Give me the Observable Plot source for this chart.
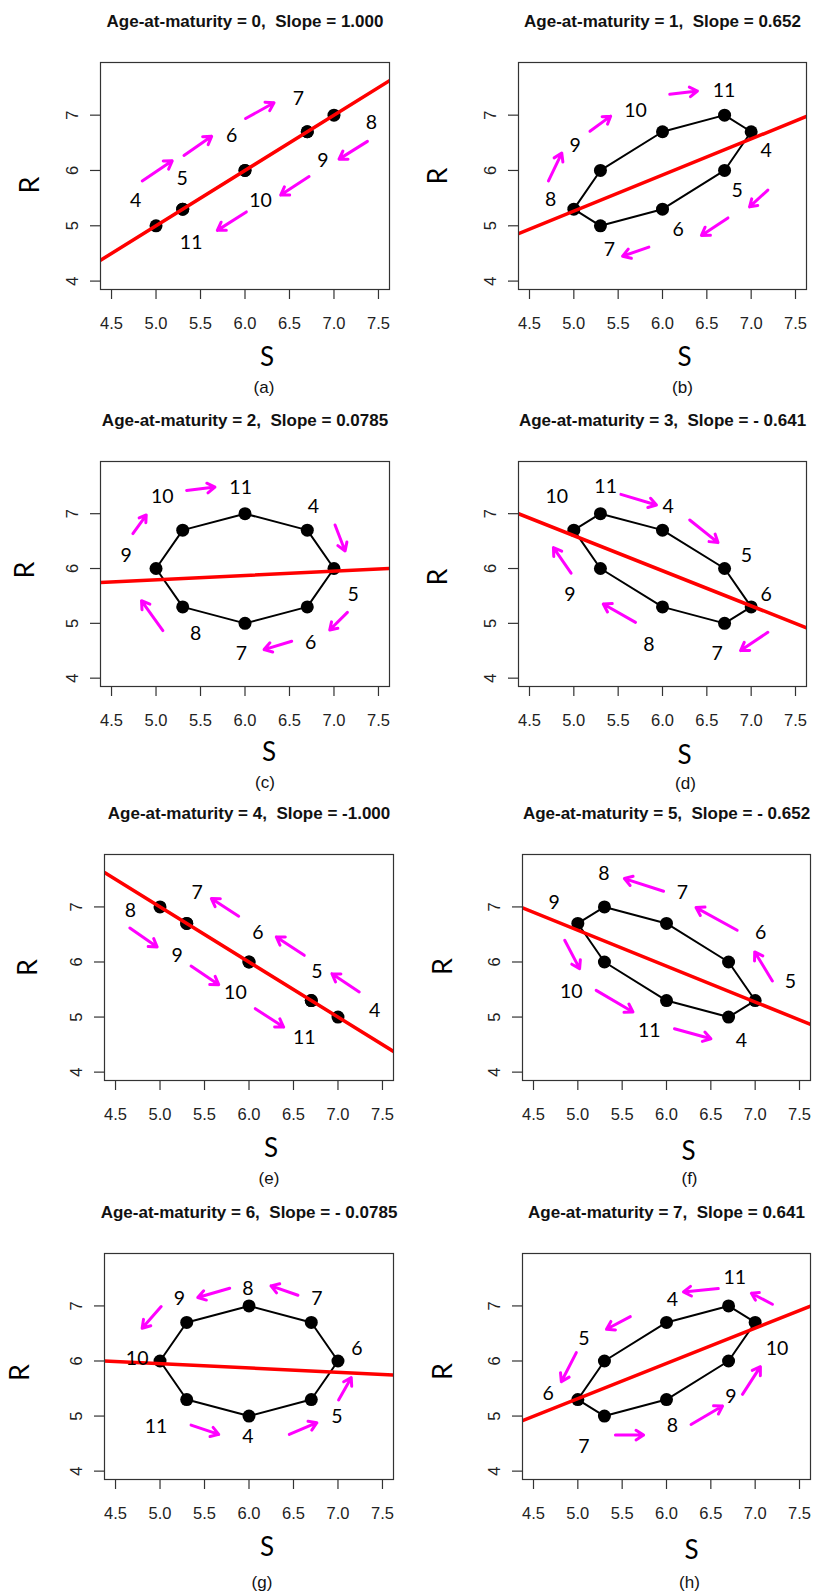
<!DOCTYPE html>
<html><head><meta charset="utf-8">
<script src="https://cdn.jsdelivr.net/npm/d3@7"></script>
<script src="https://cdn.jsdelivr.net/npm/@observablehq/plot@0.6"></script>
<style>
html,body{margin:0;padding:0;background:#fff;}
#chart{position:relative;width:813px;height:1595px;overflow:hidden;background:#fff;}
.panel{position:absolute;}
</style></head><body><div id="chart"></div>
<script>
// ---------- data ----------
const years = [4,5,6,7,8,9,10,11];
const panelLetters = ["a","b","c","d","e","f","g","h"];
const ageAtMaturity = [0,1,2,3,4,5,6,7];
const slopeText = ["1.000","0.652","0.0785","- 0.641","-1.000","- 0.652","- 0.0785","0.641"];
const slopes = [1.000,0.652,0.0785,-0.641,-1.000,-0.652,-0.0785,0.641];
const fitAtS6 = [6.0,5.918,5.873,5.959,6.0,5.926,5.873,5.956];
const xTicks = [4.5,5.0,5.5,6.0,6.5,7.0,7.5];
const yTicks = [4,5,6,7];
const xDomain = [4.376,7.624];
const yDomain = [3.848,7.952];

// S and R per panel, in year order 4..11
const S = [
 [5.0,5.3,6.0,6.7,7.0,6.7,6.0,5.3],
 [7.0,6.7,6.0,5.3,5.0,5.3,6.0,6.7],
 [6.7,7.0,6.7,6.0,5.3,5.0,5.3,6.0],
 [6.0,6.7,7.0,6.7,6.0,5.3,5.0,5.3],
 [7.0,6.7,6.0,5.3,5.0,5.3,6.0,6.7],
 [6.7,7.0,6.7,6.0,5.3,5.0,5.3,6.0],
 [6.0,6.7,7.0,6.7,6.0,5.3,5.0,5.3],
 [6.0,5.3,5.0,5.3,6.0,6.7,7.0,6.7]
];
const R = [
 [5.0,5.3,6.0,6.7,7.0,6.7,6.0,5.3],
 [6.7,6.0,5.3,5.0,5.3,6.0,6.7,7.0],
 [6.7,6.0,5.3,5.0,5.3,6.0,6.7,7.0],
 [6.7,6.0,5.3,5.0,5.3,6.0,6.7,7.0],
 [5.0,5.3,6.0,6.7,7.0,6.7,6.0,5.3],
 [5.0,5.3,6.0,6.7,7.0,6.7,6.0,5.3],
 [5.0,5.3,6.0,6.7,7.0,6.7,6.0,5.3],
 [6.7,6.0,5.3,5.0,5.3,6.0,6.7,7.0]
];
// year-label anchor points (data units), year order 4..11
const labelS = [
 [4.77,5.295,5.85,6.6,7.42,6.876,6.175,5.395],
 [7.17,6.843,6.176,5.4,4.74,5.014,5.696,6.693],
 [6.768,7.215,6.738,5.959,5.445,4.665,5.07,5.951],
 [6.064,6.945,7.17,6.615,5.846,4.957,4.807,5.359],
 [7.411,6.763,6.101,5.417,4.668,5.192,5.847,6.621],
 [6.846,7.396,7.063,6.18,5.293,4.732,4.926,5.806],
 [5.989,6.988,7.212,6.763,5.989,5.218,4.743,4.956],
 [6.068,5.069,4.665,5.069,6.068,6.726,7.246,6.771]
];
const labelR = [
 [5.46,5.846,6.62,7.30,6.86,6.18,5.46,4.70],
 [6.362,5.634,4.93,4.565,5.464,6.454,7.085,7.437],
 [7.121,5.515,4.655,4.442,4.806,6.23,7.303,7.473],
 [7.121,6.23,5.515,4.442,4.612,5.515,7.309,7.485],
 [5.121,5.818,6.533,7.255,6.927,6.121,5.436,4.624],
 [4.564,5.636,6.533,7.255,7.594,7.073,5.455,4.745],
 [4.624,4.988,6.23,7.133,7.315,7.133,6.048,4.806],
 [7.121,6.406,5.412,4.442,4.818,5.345,6.23,7.515]
];
// direction arrows [S from, R from, S to, R to]
const arrows = [
 [[4.845,5.81,5.182,6.174],[5.314,6.271,5.625,6.617],[6.007,6.939,6.326,7.225],[7.376,6.526,7.057,6.205],[6.72,5.889,6.401,5.555],[6.015,5.251,5.689,4.917]],
 [[4.714,5.81,4.864,6.314],[5.182,6.709,5.415,6.982],[6.082,7.376,6.394,7.437],[7.188,5.646,6.982,5.342],[6.738,5.142,6.439,4.826],[5.846,4.614,5.55,4.45]],
 [[4.74,6.636,4.89,6.976],[5.344,7.424,5.662,7.485],[7.012,6.794,7.125,6.321],[7.151,5.2,6.952,4.879],[6.525,4.673,6.214,4.521],[5.077,4.867,4.837,5.412]],
 [[5.531,7.352,5.932,7.158],[6.307,6.885,6.626,6.473],[7.188,4.836,6.881,4.503],[5.696,5.018,5.332,5.352],[4.969,5.915,4.77,6.382]],
 [[4.661,6.618,4.968,6.273],[5.349,5.927,5.66,5.588],[6.071,5.152,6.389,4.818],[7.239,5.455,6.932,5.788],[6.621,6.121,6.307,6.455],[5.884,6.83,5.577,7.152]],
 [[7.194,5.655,6.995,6.182],[6.797,6.576,6.333,6.988],[5.967,7.285,5.525,7.515],[4.852,6.394,5.02,5.879],[5.207,5.485,5.622,5.091],[6.09,4.788,6.501,4.606]],
 [[6.453,4.667,6.763,4.879],[7.007,5.291,7.149,5.697],[6.55,7.194,6.247,7.364],[5.783,7.321,5.424,7.152],[5.013,6.988,4.799,6.594],[5.349,4.836,5.66,4.667]],
 [[6.584,7.315,6.191,7.255],[5.592,6.806,5.323,6.576],[4.983,6.152,4.814,5.624],[5.424,4.655,5.742,4.655],[6.277,4.848,6.632,5.182],[6.857,5.394,7.059,5.897],[7.194,7.03,6.958,7.23]]
];

// ---------- layout (pixels) ----------
const layout = [
 {left:0,  top:0,    w:406, h:400, mL:100, mR:17, mT:62, mB:111, rDx:-70, rDy:9,  sDx:22, sDy:68, cDx:19, cDy:98},
 {left:406,top:0,    w:407, h:400, mL:112, mR:7,  mT:62, mB:111, rDx:-80, rDy:0,  sDx:22, sDy:68, cDx:20, cDy:98},
 {left:0,  top:400,  w:406, h:400, mL:100, mR:17, mT:61, mB:114, rDx:-75, rDy:-4, sDx:24, sDy:66, cDx:20, cDy:96},
 {left:406,top:400,  w:407, h:400, mL:112, mR:7,  mT:61, mB:114, rDx:-80, rDy:3,  sDx:22, sDy:69, cDx:23, cDy:97},
 {left:0,  top:800,  w:406, h:395, mL:104, mR:13, mT:54, mB:115, rDx:-76, rDy:0,  sDx:22, sDy:68, cDx:20, cDy:98},
 {left:406,top:800,  w:407, h:395, mL:116, mR:3,  mT:54, mB:115, rDx:-79, rDy:-1, sDx:22, sDy:71, cDx:23, cDy:98},
 {left:0,  top:1195, w:406, h:400, mL:104, mR:13, mT:58, mB:116, rDx:-84, rDy:6,  sDx:18, sDy:68, cDx:13, cDy:103},
 {left:406,top:1195, w:407, h:400, mL:116, mR:3,  mT:58, mB:116, rDx:-79, rDy:5,  sDx:25, sDy:71, cDx:23, cDy:103}
];

const sansA = "Liberation Sans, Arial, Helvetica, sans-serif";
const sansC = "Lato, 'Open Sans', sans-serif";
const chart = document.getElementById("chart");

panelLetters.forEach((letter, i) => {
  const L = layout[i];
  const pts = years.map((yr, j) => ({year: yr, s: S[i][j], r: R[i][j], ls: labelS[i][j], lr: labelR[i][j]}));
  const arr = arrows[i].map(([x1, y1, x2, y2]) => ({x1, y1, x2, y2}));
  const fit = xDomain.map(x => ({x, y: fitAtS6[i] + slopes[i] * (x - 6)}));
  const title = `Age-at-maturity = ${ageAtMaturity[i]},\u00a0 Slope = ${slopeText[i]}`;

  const svg = Plot.plot({
    width: L.w, height: L.h,
    marginLeft: L.mL, marginRight: L.mR, marginTop: L.mT, marginBottom: L.mB,
    x: {domain: xDomain},
    y: {domain: yDomain},
    style: {background: "transparent", overflow: "visible"},
    marks: [
      Plot.axisX({ticks: xTicks, tickSize: 10, tickFormat: () => "", label: null, stroke: "#333", strokeWidth: 1.2}),
      Plot.axisY({ticks: yTicks, tickSize: 10, tickFormat: () => "", label: null, stroke: "#333", strokeWidth: 1.2}),
      Plot.text(xTicks, {x: d => d, frameAnchor: "bottom", dy: 34, lineAnchor: "middle", textAnchor: "middle",
        text: d => d.toFixed(1), fontSize: 16.5, fontFamily: sansA, fill: "#222"}),
      Plot.text(yTicks, {y: d => d, frameAnchor: "left", dx: -28, rotate: -90, lineAnchor: "middle", textAnchor: "middle",
        text: d => String(d), fontSize: 16.5, fontFamily: sansA, fill: "#222"}),
      Plot.line(pts, {x: "s", y: "r", curve: "linear-closed", stroke: "#000", strokeWidth: 2}),
      Plot.dot(pts, {x: "s", y: "r", r: 6.5, fill: "#000", stroke: null}),
      Plot.line(fit, {x: "x", y: "y", stroke: "#ff0000", strokeWidth: 3.5, clip: true}),
      Plot.arrow(arr, {x1: "x1", y1: "y1", x2: "x2", y2: "y2", stroke: "#ff00ff", strokeWidth: 3,
        headLength: 4.5, headAngle: 65, strokeLinecap: "round"}),
      Plot.text(pts, {x: "ls", y: "lr", text: d => String(d.year), fontSize: 19.5, fontFamily: sansC, fill: "#000",
        lineAnchor: "middle", textAnchor: "middle"}),
      Plot.frame({stroke: "#333", strokeWidth: 1.2}),
      Plot.text([title], {text: d => d, frameAnchor: "top", dy: -36, lineAnchor: "bottom", textAnchor: "middle",
        fontWeight: "bold", fontSize: 17, fontFamily: sansA, fill: "#111"}),
      Plot.text(["R"], {text: d => d, frameAnchor: "left", dx: L.rDx, dy: L.rDy, rotate: -90, lineAnchor: "middle",
        textAnchor: "middle", fontSize: 27, fontFamily: sansC, fill: "#000"}),
      Plot.text(["S"], {text: d => d, frameAnchor: "bottom", dx: L.sDx, dy: L.sDy, lineAnchor: "middle",
        textAnchor: "middle", fontSize: 26, fontFamily: sansC, fill: "#000"}),
      Plot.text([`(${letter})`], {text: d => d, frameAnchor: "bottom", dx: L.cDx, dy: L.cDy, lineAnchor: "middle",
        textAnchor: "middle", fontSize: 17, fontFamily: sansA, fill: "#111"})
    ]
  });
  const div = document.createElement("div");
  div.className = "panel";
  div.style.left = L.left + "px";
  div.style.top = L.top + "px";
  div.appendChild(svg);
  chart.appendChild(div);
});
</script>
</body></html>
